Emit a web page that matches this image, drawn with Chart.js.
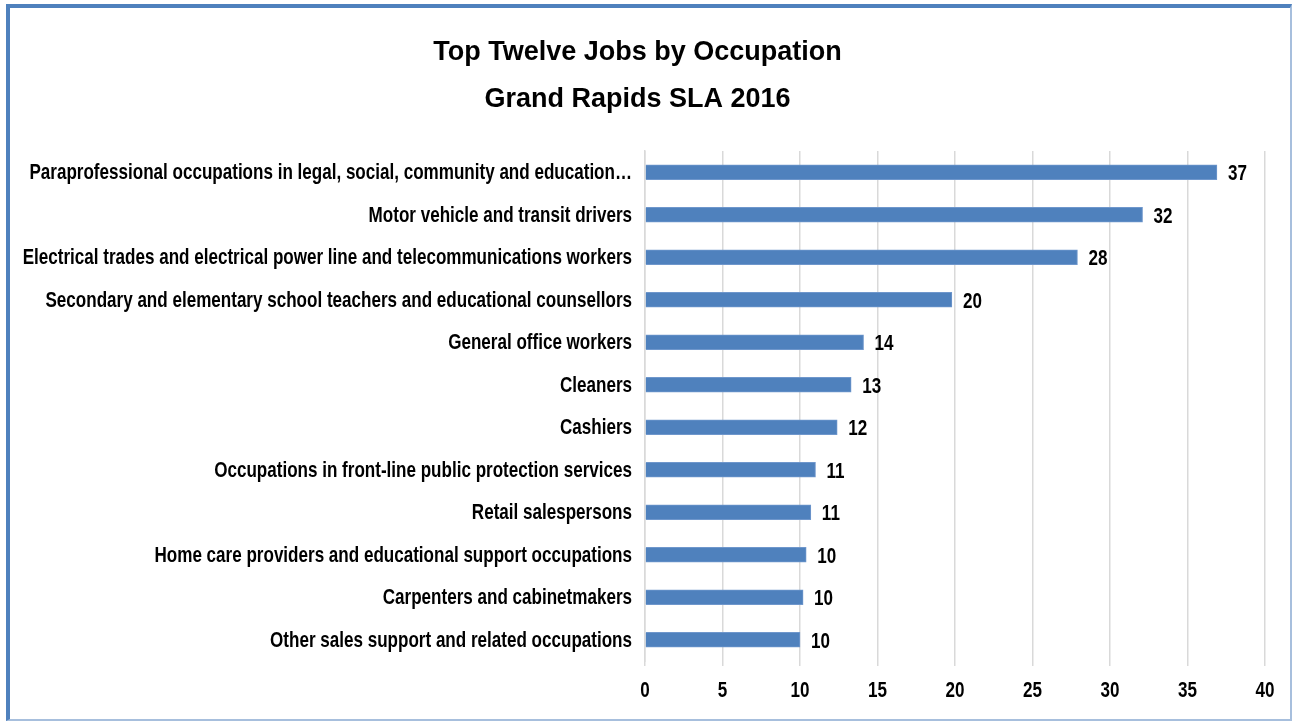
<!DOCTYPE html>
<html>
<head>
<meta charset="utf-8">
<script src="https://cdn.jsdelivr.net/npm/chart.js@4/dist/chart.umd.min.js"></script>
<style>
html,body{margin:0;padding:0;background:#fff;}
#wrap{position:relative;width:1294px;height:722px;overflow:hidden;}
#frame{position:absolute;left:6px;top:4px;width:1280px;height:711px;
border-left:4px solid #4f81bd;border-top:4px solid #4f81bd;
border-right:2px solid #a7bfdd;border-bottom:2px solid #a7bfdd;}
#chart{position:absolute;left:0;top:0;}
</style>
</head>
<body>
<div id="wrap">
<div id="frame"></div>
<canvas id="chart" width="1294" height="722"></canvas>
</div>
<script>
const titleLines=["Top Twelve Jobs by Occupation","Grand Rapids SLA 2016"];

const occupations=[
"Paraprofessional occupations in legal, social, community and education…",
"Motor vehicle and transit drivers",
"Electrical trades and electrical power line and telecommunications workers",
"Secondary and elementary school teachers and educational counsellors",
"General office workers",
"Cleaners",
"Cashiers",
"Occupations in front-line public protection services",
"Retail salespersons",
"Home care providers and educational support occupations",
"Carpenters and cabinetmakers",
"Other sales support and related occupations"
];

const jobs=[36.9,32.1,27.9,19.8,14.1,13.3,12.4,11.0,10.7,10.4,10.2,10.0];

const xTicks=[0,5,10,15,20,25,30,35,40];

const FONT="'Liberation Sans',Arial,sans-serif";
const LABEL_FONT="bold 22px "+FONT;
const SQUEEZE=0.775; // the original uses a narrow face

function narrowText(ctx,text,x,y,align){
ctx.save();
ctx.translate(x,y);
ctx.scale(SQUEEZE,1);
ctx.textAlign=align;
ctx.fillText(text,0,0);
ctx.restore();
}

// category labels, x tick labels and bar values, drawn condensed
const narrowLabels={
id:"narrowLabels",
afterDatasetsDraw(chart){
const ctx=chart.ctx;
const xs=chart.scales.x;
const ys=chart.scales.y;
const meta=chart.getDatasetMeta(0);
ctx.save();
ctx.font=LABEL_FONT;
ctx.fillStyle="#000";
ctx.textBaseline="middle";
occupations.forEach((name,i)=>{
narrowText(ctx,name,ys.right-13,ys.getPixelForTick(i)+1,"right");
});
xs.ticks.forEach((t,i)=>{
narrowText(ctx,String(t.value),xs.getPixelForTick(i),xs.top+30,"center");
});
meta.data.forEach((bar,i)=>{
narrowText(ctx,String(Math.round(jobs[i])),bar.x+11,bar.y+2,"left");
});
ctx.restore();
}
};

new Chart(document.getElementById("chart"),{
type:"bar",
data:{
labels:occupations,
datasets:[{
data:jobs,
backgroundColor:"#4f81bd",
borderColor:"#6f97cc",
borderWidth:1,
barThickness:15
}]
},
plugins:[narrowLabels],
options:{
indexAxis:"y",
responsive:false,
animation:false,
layout:{padding:{top:10,left:10,right:29,bottom:10}},
plugins:{
legend:{display:false},
tooltip:{enabled:false},
title:{
display:true,
text:titleLines,
color:"#000",
font:{family:FONT,size:27,weight:"bold",lineHeight:1.74},
padding:{top:19,bottom:28}
}
},
scales:{
x:{
min:0,
max:40,
afterBuildTicks(scale){
scale.ticks=xTicks.map(v=>({value:v}));
},
grid:{color:"#d9d9d9",lineWidth:1.5,tickLength:5,drawTicks:true},
border:{display:false},
ticks:{display:false},
afterFit(scale){scale.height=51;}
},
y:{
grid:{display:false,drawTicks:false},
border:{display:true,color:"#d9d9d9",width:1.5},
ticks:{display:false,autoSkip:false},
afterFit(scale){scale.width=635;}
}
}
}
});
</script>
</body>
</html>
